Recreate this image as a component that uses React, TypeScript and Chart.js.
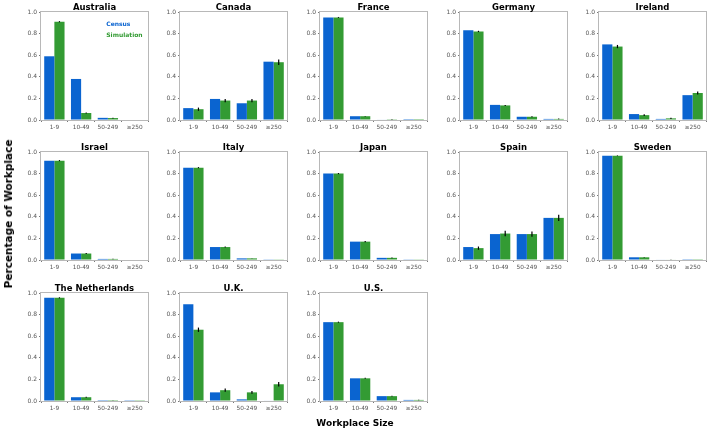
import React, { useEffect, useRef } from 'react';
import { Chart, registerables } from 'chart.js';

Chart.register(...registerables);

const CATEGORIES = ['1-9', '10-49', '50-249', '≥250'];
const SERIES_NAMES = ['Census', 'Simulation'];
const COUNTRIES = [
  'Australia', 'Canada', 'France', 'Germany', 'Ireland',
  'Israel', 'Italy', 'Japan', 'Spain', 'Sweden',
  'The Netherlands', 'U.K.', 'U.S.',
];
const CENSUS = [
  [0.59, 0.38, 0.02, 0.0],
  [0.11, 0.195, 0.155, 0.54],
  [0.95, 0.035, 0.005, 0.001],
  [0.83, 0.14, 0.03, 0.01],
  [0.70, 0.055, 0.01, 0.23],
  [0.92, 0.06, 0.01, 0.0],
  [0.855, 0.12, 0.015, 0.003],
  [0.80, 0.17, 0.02, 0.003],
  [0.12, 0.24, 0.24, 0.39],
  [0.965, 0.025, 0.005, 0.002],
  [0.955, 0.035, 0.008, 0.002],
  [0.895, 0.08, 0.015, 0.005],
  [0.73, 0.21, 0.045, 0.01],
];
const SIMULATION = [
  [0.91, 0.065, 0.018, 0.0],
  [0.10, 0.18, 0.18, 0.535],
  [0.95, 0.035, 0.007, 0.001],
  [0.82, 0.135, 0.03, 0.01],
  [0.68, 0.045, 0.015, 0.25],
  [0.92, 0.06, 0.01, 0.0],
  [0.855, 0.12, 0.015, 0.003],
  [0.80, 0.17, 0.02, 0.003],
  [0.11, 0.245, 0.24, 0.39],
  [0.965, 0.025, 0.005, 0.002],
  [0.955, 0.035, 0.008, 0.002],
  [0.66, 0.10, 0.08, 0.155],
  [0.73, 0.21, 0.045, 0.01],
];
const SIM_ERROR = [
  [0.005, 0.004, 0.003, 0.0],
  [0.015, 0.015, 0.015, 0.025],
  [0.004, 0.003, 0.002, 0.0],
  [0.006, 0.005, 0.004, 0.003],
  [0.015, 0.008, 0.005, 0.015],
  [0.005, 0.005, 0.002, 0.0],
  [0.005, 0.004, 0.002, 0.0],
  [0.005, 0.005, 0.003, 0.0],
  [0.015, 0.025, 0.025, 0.03],
  [0.003, 0.003, 0.001, 0.0],
  [0.005, 0.004, 0.002, 0.0],
  [0.02, 0.015, 0.012, 0.02],
  [0.005, 0.005, 0.003, 0.002],
];
const Y_TICKS = [0, 0.2, 0.4, 0.6, 0.8, 1.0];

const BLUE = '#0a64d0';
const GREEN = '#339b33';
const FONT = "'DejaVu Sans', sans-serif";

const COL_LEFT = [41, 180, 320, 460, 599];
const ROW_TOP = [12, 152, 293];
const PLOT_W = 107;
const PLOT_H = 108;
const Y_AXIS_W = 32;
const X_AXIS_H = 16;
const TITLE_H = 12;

function Panel({ idx }: { idx: number }) {
  const ref = useRef<HTMLCanvasElement | null>(null);
  const col = idx % 5;
  const row = Math.floor(idx / 5);
  const W = Y_AXIS_W + PLOT_W + 2;
  const H = TITLE_H + PLOT_H + X_AXIS_H;
  const left = COL_LEFT[col] - Y_AXIS_W;
  const top = ROW_TOP[row] - TITLE_H;

  useEffect(() => {
    const errs = SIM_ERROR[idx];
    const framePlugin = {
      id: 'frame',
      afterDraw(chart: any) {
        const { ctx, chartArea: a } = chart;
        ctx.save();
        ctx.strokeStyle = '#b8b8b8';
        ctx.lineWidth = 1;
        ctx.strokeRect(Math.round(a.left) - 0.5, Math.round(a.top) - 0.5, Math.round(a.right - a.left) + 1, Math.round(a.bottom - a.top) + 1);
        ctx.restore();
      },
    };
    const errorPlugin = {
      id: 'errbars',
      afterDatasetsDraw(chart: any) {
        const { ctx } = chart;
        const y = chart.scales.y;
        const meta = chart.getDatasetMeta(1);
        const vals = chart.data.datasets[1].data as number[];
        ctx.save();
        ctx.strokeStyle = '#000';
        ctx.lineWidth = 1.2;
        meta.data.forEach((el: any, i: number) => {
          const e = errs[i];
          if (!e) return;
          const y1 = y.getPixelForValue(vals[i] - e);
          const y2 = y.getPixelForValue(vals[i] + e);
          ctx.beginPath();
          ctx.moveTo(el.x, y1);
          ctx.lineTo(el.x, y2);
          ctx.stroke();
        });
        ctx.restore();
      },
    };
    const titlePlugin = {
      id: 'ptitle',
      afterDraw(chart: any) {
        const { ctx, chartArea: a } = chart;
        ctx.save();
        ctx.font = `bold 8.5px ${FONT}`;
        ctx.fillStyle = '#000';
        ctx.textAlign = 'center';
        ctx.textBaseline = 'alphabetic';
        ctx.fillText(COUNTRIES[idx], (a.left + a.right) / 2, a.top - 2);
        ctx.restore();
      },
    };
    const legendPlugin = {
      id: 'plegend',
      afterDraw(chart: any) {
        if (idx !== 0) return;
        const { ctx, chartArea: a } = chart;
        const w = a.right - a.left;
        const h = a.bottom - a.top;
        ctx.save();
        ctx.font = `bold 6px ${FONT}`;
        ctx.textAlign = 'left';
        ctx.textBaseline = 'middle';
        chart.data.datasets.forEach((ds: any, i: number) => {
          ctx.fillStyle = ds.backgroundColor;
          ctx.fillText(ds.label, a.left + 0.61 * w, a.top + (0.115 + i * 0.105) * h);
        });
        ctx.restore();
      },
    };
    const chart = new Chart(ref.current as HTMLCanvasElement, {
      type: 'bar',
      data: {
        labels: CATEGORIES,
        datasets: [
          { label: SERIES_NAMES[0], data: CENSUS[idx], backgroundColor: BLUE, borderWidth: 0 },
          { label: SERIES_NAMES[1], data: SIMULATION[idx], backgroundColor: GREEN, borderWidth: 0 },
        ],
      },
      options: {
        responsive: false,
        animation: false,
        devicePixelRatio: 1,
        layout: { padding: { top: TITLE_H, right: 2, left: 0, bottom: 0 } },
        datasets: { bar: { categoryPercentage: 0.76, barPercentage: 1.0 } },
        plugins: { legend: { display: false }, title: { display: false }, tooltip: { enabled: false } },
        scales: {
          x: {
            offset: true,
            grid: { display: true, drawOnChartArea: false, drawTicks: true, tickLength: 2, color: '#777' },
            border: { display: false },
            ticks: { font: { family: FONT, size: 5.8 }, color: '#555', padding: 2.5, maxRotation: 0, autoSkip: false },
            afterFit(scale: any) { scale.height = X_AXIS_H; },
          },
          y: {
            min: 0,
            max: 1,
            afterBuildTicks(scale: any) { scale.ticks = Y_TICKS.map((v) => ({ value: v })); },
            grid: { display: true, drawOnChartArea: false, drawTicks: true, tickLength: 2, color: '#777' },
            border: { display: false },
            ticks: { font: { family: FONT, size: 6 }, color: '#555', padding: 2, callback: (v: any) => Number(v).toFixed(1) },
            afterFit(scale: any) { scale.width = Y_AXIS_W; },
          },
        },
      },
      plugins: [framePlugin, errorPlugin, titlePlugin, legendPlugin],
    } as any);
    return () => chart.destroy();
  }, [idx]);

  return (
    <canvas
      ref={ref}
      width={W}
      height={H}
      style={{ position: 'absolute', left, top, width: W, height: H }}
    />
  );
}

export default function App() {
  return (
    <div style={{ position: 'absolute', left: 0, top: 0, width: 709, height: 430, background: '#fff', overflow: 'hidden' }}>
      {COUNTRIES.map((_, i) => (
        <Panel key={i} idx={i} />
      ))}
      <div
        style={{
          position: 'absolute', left: 8, top: 214, transform: 'translate(-50%, -50%) rotate(-90deg)',
          whiteSpace: 'nowrap', font: `bold 10.5px ${FONT}`, color: '#000',
        }}
      >
        Percentage of Workplace
      </div>
      <div
        style={{
          position: 'absolute', left: 355, top: 423, transform: 'translate(-50%, -50%)',
          whiteSpace: 'nowrap', font: `bold 9px ${FONT}`, color: '#000',
        }}
      >
        Workplace Size
      </div>
    </div>
  );
}
